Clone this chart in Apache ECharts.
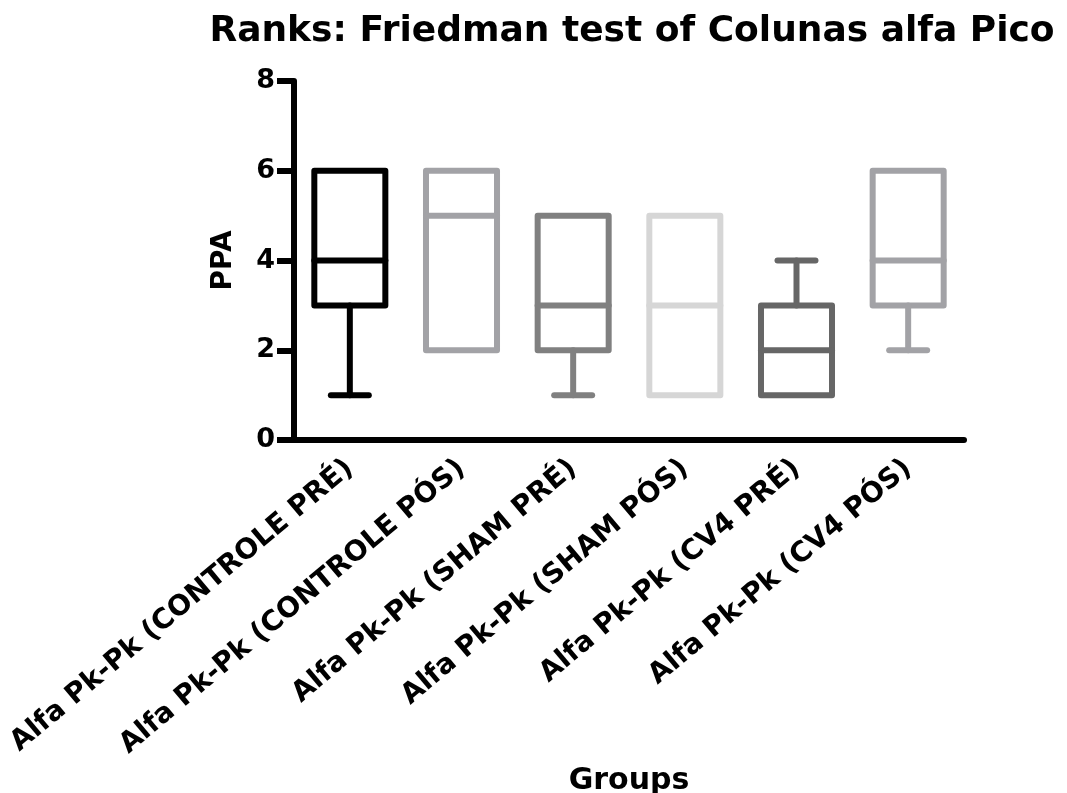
<!DOCTYPE html>
<html>
<head>
<meta charset="utf-8">
<script src="https://cdn.jsdelivr.net/npm/echarts@6/dist/echarts.min.js"></script>
<style>
html,body{margin:0;padding:0;background:#fff;}
#chart{width:1067px;height:793px;}
</style>
</head>
<body>
<div id="chart"></div>
<script>
// Data
var categories = [
  'Alfa Pk-Pk (CONTROLE PRÉ)',
  'Alfa Pk-Pk (CONTROLE PÓS)',
  'Alfa Pk-Pk (SHAM PRÉ)',
  'Alfa Pk-Pk (SHAM PÓS)',
  'Alfa Pk-Pk (CV4 PRÉ)',
  'Alfa Pk-Pk (CV4 PÓS)'
];
var minValues    = [1, 2, 1, 1, 1, 2];
var q1Values     = [3, 2, 2, 1, 1, 3];
var medianValues = [4, 5, 3, 3, 2, 4];
var q3Values     = [6, 6, 5, 5, 3, 6];
var maxValues    = [6, 6, 5, 5, 4, 6];
var boxColors = ['#000000', '#a2a2a6', '#808080', '#d6d6d6', '#666666', '#a2a2a6'];
var yTicks = [0, 2, 4, 6, 8];

var FONT = '"DejaVu Sans", "Liberation Sans", Arial, sans-serif';

var seriesData = categories.map(function (c, i) {
  return [i, minValues[i], q1Values[i], medianValues[i], q3Values[i], maxValues[i]];
});

function renderBox(params, api) {
  var idx = api.value(0);
  var pMin = api.coord([idx, api.value(1)]);
  var pQ1 = api.coord([idx, api.value(2)]);
  var pMed = api.coord([idx, api.value(3)]);
  var pQ3 = api.coord([idx, api.value(4)]);
  var pMax = api.coord([idx, api.value(5)]);
  var band = api.size([1, 0])[0];
  var halfBox = band * 0.318;
  var halfCap = band * 0.17;
  var cx = pQ1[0];
  var color = boxColors[params.dataIndex];
  var style = {stroke: color, lineWidth: 6, fill: null, lineCap: 'round', lineJoin: 'round'};
  var children = [];
  children.push({
    type: 'rect',
    shape: {x: cx - halfBox, y: pQ3[1], width: halfBox * 2, height: pQ1[1] - pQ3[1]},
    style: style
  });
  children.push({
    type: 'line',
    shape: {x1: cx - halfBox, y1: pMed[1], x2: cx + halfBox, y2: pMed[1]},
    style: style
  });
  if (api.value(1) < api.value(2)) {
    children.push({type: 'line', shape: {x1: cx, y1: pQ1[1], x2: cx, y2: pMin[1]}, style: style});
    children.push({type: 'line', shape: {x1: cx - halfCap, y1: pMin[1], x2: cx + halfCap, y2: pMin[1]}, style: style});
  }
  if (api.value(5) > api.value(4)) {
    children.push({type: 'line', shape: {x1: cx, y1: pQ3[1], x2: cx, y2: pMax[1]}, style: style});
    children.push({type: 'line', shape: {x1: cx - halfCap, y1: pMax[1], x2: cx + halfCap, y2: pMax[1]}, style: style});
  }
  return {type: 'group', children: children};
}

var chart = echarts.init(document.getElementById('chart'), null, {renderer: 'canvas'});
chart.setOption({
  backgroundColor: '#ffffff',
  animation: false,
  title: {
    text: 'Ranks: Friedman test of Colunas alfa Pico',
    left: 627,
    textAlign: 'center',
    top: 9,
    textStyle: {fontFamily: FONT, fontWeight: 'bold', fontSize: 36, color: '#000'}
  },
  grid: {left: 294, right: 103, top: 81, bottom: 353, containLabel: false, outerBoundsMode: 'none'},
  xAxis: {
    type: 'category',
    data: categories,
    boundaryGap: true,
    name: 'Groups',
    nameLocation: 'middle',
    nameGap: 326,
    nameTextStyle: {fontFamily: FONT, fontWeight: 'bold', fontSize: 30, color: '#000'},
    axisLine: {lineStyle: {color: '#000', width: 6}},
    axisTick: {alignWithLabel: true, length: 11, lineStyle: {color: '#000', width: 6}},
    axisLabel: {
      rotate: 40,
      interval: 0,
      margin: 25,
      fontFamily: FONT,
      fontWeight: 'bold',
      fontSize: 28,
      color: '#000'
    },
    splitLine: {show: false}
  },
  yAxis: {
    type: 'value',
    min: 0,
    max: 8,
    interval: 2,
    name: 'PPA',
    nameLocation: 'middle',
    nameGap: 56,
    nameRotate: 90,
    nameTextStyle: {fontFamily: FONT, fontWeight: 'bold', fontSize: 28, color: '#000'},
    axisLine: {show: true, lineStyle: {color: '#000', width: 6}},
    axisTick: {show: true, length: 17, lineStyle: {color: '#000', width: 6}},
    axisLabel: {
      margin: 19,
      fontFamily: FONT,
      fontWeight: 'bold',
      fontSize: 27,
      color: '#000',
      formatter: function (v) { return yTicks.indexOf(v) >= 0 ? String(v) : ''; }
    },
    splitLine: {show: false}
  },
  series: [{
    type: 'custom',
    renderItem: renderBox,
    encode: {x: 0, y: [1, 2, 3, 4, 5]},
    data: seriesData,
    z: 3
  }]
});
</script>
</body>
</html>
